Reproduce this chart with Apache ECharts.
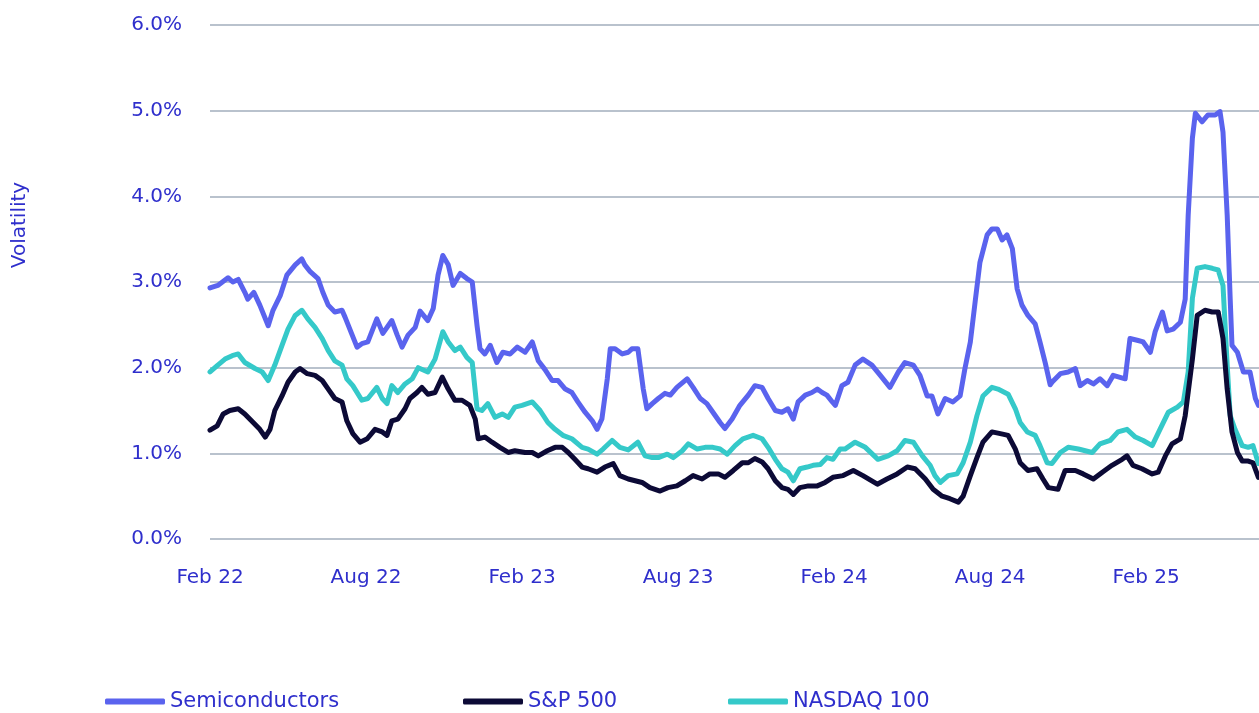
<!DOCTYPE html>
<html>
<head>
<meta charset="utf-8">
<script src="https://cdn.jsdelivr.net/npm/echarts@6/dist/echarts.min.js"></script>
<style>
  html, body { margin: 0; padding: 0; background: #fff; }
  #chart { width: 1259px; height: 713px; }
</style>
</head>
<body>
<div id="chart"></div>
<script>
// x values are weeks since start of Feb 2022 (26 weeks = 6 months)
const tickLabels = ['Feb 22', 'Aug 22', 'Feb 23', 'Aug 23', 'Feb 24', 'Aug 24', 'Feb 25'];
const seriesNames = ['Semiconductors', 'S&P 500', 'NASDAQ 100'];

const semiWeeks = [0, 1.3, 3, 3.8, 4.7, 5.8, 6.3, 7.3, 8.3, 9.7, 10.5, 11.7, 12.8, 14.2, 15.3, 15.8, 16.7, 18, 18.8, 19.7,
  20.8, 22, 22.5, 23.7, 24.5, 25.3, 26.3, 27.8, 28.8, 30.3, 31.2, 32, 33, 34.2, 35, 36.3, 37.2, 38, 38.8, 39.7,
  40.5, 41.7, 42.8, 43.7, 44.5, 45, 45.8, 46.7, 47.8, 48.8, 50, 51.2, 52.5, 53.7, 54.7, 55.8, 57, 58, 59.2, 60.3,
  61.3, 62.5, 63.7, 64.5, 65.3, 66.2, 66.7, 67.5, 68.7, 69.7, 70.3, 71.3, 72.2, 72.8, 73.7, 74.7, 75.8, 76.7, 77.8, 79.5,
  80.5, 81.7, 82.8, 83.8, 85, 85.8, 87, 88.3, 89.7, 90.8, 92, 93, 94.2, 95.3, 96.3, 97.2, 98, 99.2, 100.3, 101.2,
  102, 102.8, 103.7, 104.2, 105.3, 106.3, 107.5, 108.8, 110.3, 111.7, 113.3, 114.7, 115.8, 117.2, 118.3, 119.5, 120.3, 121.3, 122.5, 123.8,
  125, 125.8, 126.7, 127.5, 128.3, 129.5, 130.3, 131.2, 132, 132.8, 133.7, 134.5, 135.3, 136.3, 137.5, 138.3, 139.2, 140, 140.3, 141.7,
  143, 144.2, 145, 146.2, 147.2, 148.3, 149.5, 150.5, 152.5, 153.3, 154.5, 155.5, 156.7, 157.5, 158.7, 159.5, 160.5, 161.7, 162.5, 163,
  163.7, 164.2, 165.3, 166.3, 167.5, 168.3, 168.8, 169.5, 170, 170.3, 171.2, 172.2, 173.3, 174.2, 174.7];
const semiVals = [2.93, 2.96, 3.05, 3.0, 3.03, 2.88, 2.80, 2.88, 2.73, 2.49, 2.67, 2.84, 3.08, 3.2, 3.27, 3.2, 3.12, 3.04, 2.88, 2.73,
  2.65, 2.67, 2.59, 2.38, 2.24, 2.28, 2.30, 2.57, 2.40, 2.55, 2.38, 2.24, 2.38, 2.47, 2.66, 2.55, 2.69, 3.08, 3.31, 3.2,
  2.96, 3.10, 3.04, 3.0, 2.49, 2.22, 2.16, 2.26, 2.06, 2.18, 2.16, 2.24, 2.18, 2.3, 2.08, 1.98, 1.85, 1.85, 1.75, 1.71,
  1.60, 1.48, 1.38, 1.28, 1.40, 1.87, 2.22, 2.22, 2.16, 2.18, 2.22, 2.22, 1.75, 1.52, 1.58, 1.64, 1.70, 1.68, 1.77, 1.87,
  1.77, 1.64, 1.58, 1.48, 1.36, 1.29, 1.40, 1.56, 1.68, 1.79, 1.77, 1.64, 1.50, 1.48, 1.52, 1.40, 1.60, 1.68, 1.71, 1.75,
  1.71, 1.68, 1.60, 1.56, 1.79, 1.83, 2.03, 2.10, 2.03, 1.91, 1.77, 1.95, 2.06, 2.03, 1.91, 1.67, 1.67, 1.46, 1.64, 1.60,
  1.67, 1.99, 2.30, 2.77, 3.23, 3.55, 3.62, 3.62, 3.49, 3.55, 3.39, 2.92, 2.73, 2.61, 2.51, 2.30, 2.05, 1.80, 1.83, 1.93,
  1.95, 1.99, 1.79, 1.85, 1.81, 1.87, 1.79, 1.91, 1.87, 2.34, 2.32, 2.30, 2.18, 2.42, 2.65, 2.43, 2.45, 2.53, 2.80, 3.78,
  4.68, 4.97, 4.87, 4.95, 4.95, 4.99, 4.75, 3.78, 2.80, 2.26, 2.18, 1.95, 1.95, 1.64, 1.56];

const spWeeks = [0, 1.2, 2.2, 3.3, 4.7, 5.8, 7.2, 8.3, 9.2, 10, 10.8, 12, 13, 14.2, 15, 16.2, 17.5, 18.7, 19.7, 20.8,
  22, 22.8, 23.8, 25, 26.2, 27.5, 28.7, 29.5, 30.3, 31.3, 32.5, 33.3, 34.5, 35.3, 36.3, 37.5, 38.7, 39.7, 40.8, 42,
  43.3, 44.2, 44.7, 45.8, 47, 48.3, 49.7, 50.8, 52.5, 53.7, 54.7, 56.2, 57.5, 58.7, 59.7, 60.8, 62, 63, 64.5, 65.8,
  67.2, 68.3, 69.7, 72, 73.3, 75, 76.3, 77.8, 79.2, 80.5, 82, 83.3, 84.7, 85.8, 87.2, 88.7, 89.7, 90.8, 92, 93,
  94.2, 95.3, 96.3, 97.2, 98.3, 99.7, 101.2, 102.5, 103.8, 105.5, 107.2, 108.8, 111.2, 112.8, 114.5, 116.2, 117.5, 119.2, 120.5, 122,
  123.3, 124.7, 125.5, 126.7, 127.8, 128.8, 130.3, 131.7, 133, 134.2, 135, 136.3, 137.8, 138.8, 139.7, 141.3, 142.5, 144.2, 145.5, 147.2,
  148.7, 150.3, 152, 152.8, 153.8, 155.3, 157, 158, 159.2, 160.3, 161.7, 162.5, 163.7, 164.5, 165.8, 167, 168, 168.8, 169.5, 170.3,
  171.2, 172, 173, 173.8, 174.7];
const spVals = [1.27, 1.32, 1.46, 1.50, 1.52, 1.46, 1.36, 1.28, 1.19, 1.28, 1.50, 1.67, 1.83, 1.95, 1.99, 1.93, 1.91, 1.85, 1.75, 1.64,
  1.60, 1.38, 1.23, 1.13, 1.17, 1.28, 1.25, 1.21, 1.38, 1.40, 1.52, 1.64, 1.71, 1.77, 1.69, 1.71, 1.89, 1.75, 1.62, 1.62,
  1.56, 1.40, 1.17, 1.19, 1.13, 1.07, 1.01, 1.03, 1.01, 1.01, 0.97, 1.03, 1.07, 1.07, 1.01, 0.93, 0.84, 0.82, 0.78, 0.84,
  0.88, 0.74, 0.70, 0.66, 0.60, 0.56, 0.60, 0.62, 0.68, 0.74, 0.70, 0.76, 0.76, 0.72, 0.80, 0.89, 0.89, 0.94, 0.90, 0.82,
  0.68, 0.60, 0.58, 0.52, 0.60, 0.62, 0.62, 0.66, 0.72, 0.74, 0.80, 0.74, 0.64, 0.70, 0.76, 0.84, 0.82, 0.70, 0.58, 0.50,
  0.47, 0.43, 0.50, 0.74, 0.95, 1.13, 1.25, 1.23, 1.21, 1.05, 0.89, 0.80, 0.82, 0.70, 0.60, 0.58, 0.80, 0.80, 0.76, 0.70,
  0.78, 0.86, 0.93, 0.97, 0.86, 0.82, 0.76, 0.78, 0.97, 1.11, 1.17, 1.44, 2.10, 2.61, 2.67, 2.65, 2.65, 2.34, 1.75, 1.25,
  1.01, 0.91, 0.91, 0.89, 0.72];

const ndxWeeks = [0, 1.3, 2.5, 3.7, 4.7, 5.8, 7.5, 8.7, 9.7, 10.8, 12, 13, 14.2, 15.3, 16.3, 17.5, 18.7, 19.7, 20.8, 22,
  22.8, 23.8, 25.3, 26.3, 27.8, 28.7, 29.5, 30.3, 31.3, 32.5, 33.7, 34.7, 36.3, 37.5, 38.8, 39.7, 40.8, 41.7, 42.8, 43.7,
  44.5, 45.3, 46.3, 47.5, 48.7, 49.7, 50.8, 52, 53.7, 55, 56.3, 57.5, 58.8, 60.3, 62, 63, 64.5, 65.5, 67, 68.3,
  69.7, 71.3, 72.5, 73.7, 74.7, 76.2, 77.2, 78.7, 79.7, 81.2, 82.5, 83.8, 85, 86.2, 87.5, 88.8, 90.5, 92, 93, 94.2,
  95.3, 96.3, 97.2, 98.3, 99.5, 100.5, 101.7, 102.8, 103.8, 105, 105.8, 107.5, 109.2, 111.3, 113, 114.5, 115.8, 117.2, 118.7, 120,
  120.8, 121.7, 123, 124.5, 125.5, 126.7, 127.8, 128.8, 130.3, 131.3, 133, 134.2, 135, 136.2, 137.5, 138.3, 139.5, 140.3, 141.7, 143,
  144.7, 147, 148.3, 150, 151.3, 152.8, 154.2, 155.5, 157, 158.3, 159.7, 161.2, 162.2, 163, 163.7, 164.5, 165.8, 167, 168, 168.8,
  169.5, 170, 170.8, 172, 173, 173.8, 174.7];
const ndxVals = [1.95, 2.03, 2.10, 2.14, 2.16, 2.06, 1.99, 1.95, 1.85, 2.03, 2.26, 2.45, 2.61, 2.67, 2.57, 2.47, 2.34, 2.20, 2.08, 2.03,
  1.87, 1.79, 1.62, 1.64, 1.77, 1.64, 1.58, 1.79, 1.71, 1.81, 1.87, 2.0, 1.95, 2.10, 2.42, 2.30, 2.20, 2.24, 2.12, 2.06,
  1.52, 1.50, 1.58, 1.42, 1.46, 1.42, 1.54, 1.56, 1.60, 1.50, 1.36, 1.28, 1.21, 1.17, 1.07, 1.05, 0.99, 1.05, 1.15, 1.07,
  1.04, 1.13, 0.97, 0.95, 0.95, 0.99, 0.95, 1.03, 1.11, 1.05, 1.07, 1.07, 1.05, 0.99, 1.09, 1.17, 1.21, 1.17, 1.07, 0.93,
  0.82, 0.78, 0.68, 0.82, 0.84, 0.86, 0.87, 0.95, 0.93, 1.05, 1.05, 1.13, 1.07, 0.93, 0.97, 1.03, 1.15, 1.13, 0.97, 0.86,
  0.74, 0.66, 0.74, 0.76, 0.89, 1.13, 1.44, 1.67, 1.77, 1.75, 1.69, 1.52, 1.36, 1.25, 1.21, 1.09, 0.89, 0.88, 1.01, 1.07,
  1.05, 1.01, 1.11, 1.15, 1.25, 1.28, 1.19, 1.15, 1.09, 1.28, 1.48, 1.54, 1.60, 1.95, 2.81, 3.16, 3.18, 3.16, 3.14, 2.96,
  2.03, 1.44, 1.28, 1.09, 1.07, 1.09, 0.88];

const textBlue = '#2f2fcc';
const colors = ['#5a63ee', '#0c0a36', '#35c9c9'];

function pairs(xs, ys) {
  return xs.map((x, i) => [x, ys[i]]);
}

let chart = echarts.init(document.getElementById('chart'));

const lineBase = {
  type: 'line',
  showSymbol: false,
  symbol: 'none',
  lineStyle: { width: 5, join: 'round', cap: 'round' },
  emphasis: { disabled: true }
};

const legendLefts = [105, 463, 728];

let option = {
  animation: false,
  color: colors,
  grid: { left: 210, right: 0, top: 25, bottom: 174 },
  legend: seriesNames.map((name, i) => ({
    data: [name],
    left: legendLefts[i],
    top: 691,
    padding: 0,
    icon: 'roundRect',
    itemWidth: 60,
    itemHeight: 6,
    itemGap: 5,
    selectedMode: false,
    textStyle: { color: textBlue, fontSize: 21, fontFamily: 'DejaVu Sans', padding: [0, 0, 0, 0] }
  })),
  graphic: [{
    type: 'text',
    x: 20,
    y: 225,
    rotation: Math.PI / 2,
    style: {
      text: 'Volatility',
      fill: textBlue,
      font: '20px "DejaVu Sans"',
      align: 'center',
      verticalAlign: 'middle'
    }
  }],
  xAxis: {
    type: 'value',
    min: 0,
    max: 174.8,
    interval: 26,
    axisLine: { show: false },
    axisTick: { show: false },
    splitLine: { show: false },
    axisLabel: {
      margin: 29,
      color: textBlue,
      fontSize: 20,
      fontFamily: 'DejaVu Sans',
      showMaxLabel: false,
      formatter: v => tickLabels[Math.round(v / 26)] || ''
    }
  },
  yAxis: {
    type: 'value',
    min: 0,
    max: 6,
    interval: 1,
    axisLine: { show: false },
    axisTick: { show: false },
    splitLine: { lineStyle: { color: '#b9c2cd', width: 2 } },
    axisLabel: {
      margin: 28,
      color: textBlue,
      fontSize: 20,
      fontFamily: 'DejaVu Sans',
      formatter: v => v.toFixed(1) + '%'
    }
  },
  series: [
    { ...lineBase, name: seriesNames[0], data: pairs(semiWeeks, semiVals), z: 2 },
    { ...lineBase, name: seriesNames[1], data: pairs(spWeeks, spVals), z: 3 },
    { ...lineBase, name: seriesNames[2], data: pairs(ndxWeeks, ndxVals), z: 2 }
  ]
};

option && chart.setOption(option);
</script>
</body>
</html>
